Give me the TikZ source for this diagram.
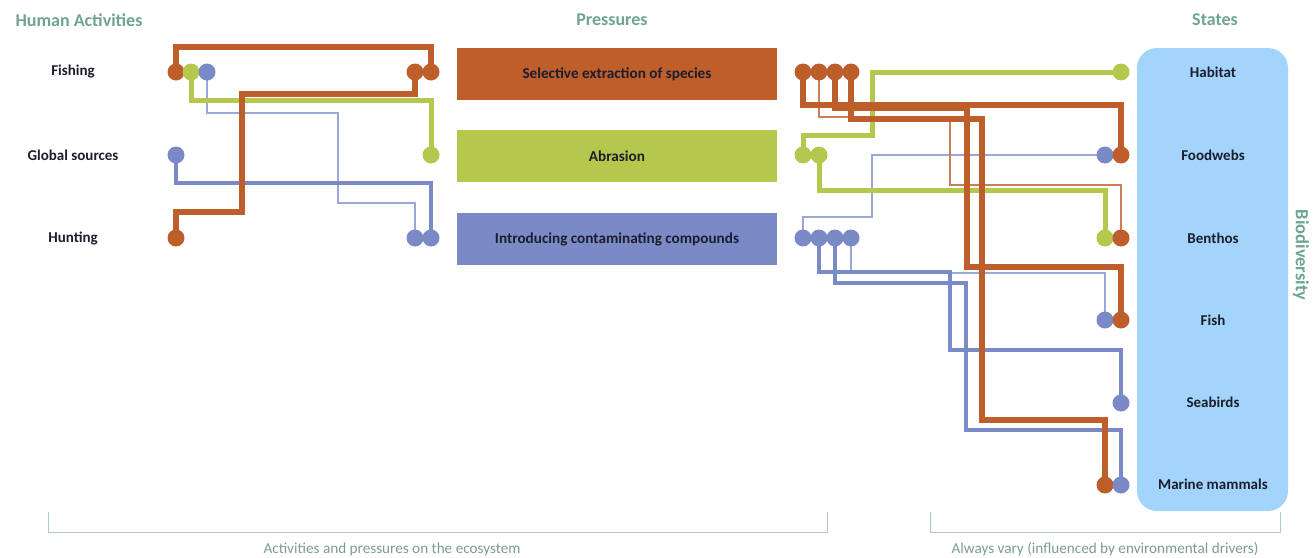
\documentclass[tikz,border=0pt]{standalone}
\usepackage{fontspec}
\setmainfont{Carlito}
\definecolor{rust}{RGB}{189,94,43}
\definecolor{lime}{RGB}{181,199,76}
\definecolor{slate}{RGB}{122,138,198}
\definecolor{sky}{RGB}{163,212,251}
\definecolor{teal}{RGB}{111,163,150}
\definecolor{bracketgrey}{RGB}{178,200,196}
\definecolor{notegrey}{RGB}{125,155,150}
\definecolor{ink}{RGB}{28,30,45}
\begin{document}
\begin{tikzpicture}[x=1pt,y=-1pt,
  header/.style={font=\fontsize{18}{21}\selectfont\bfseries, text=teal},
  actlabel/.style={font=\fontsize{15}{18}\selectfont\bfseries, text=ink},
  statelabel/.style={font=\fontsize{15}{18}\selectfont\bfseries, text=ink},
  pressurebox/.style={minimum width=320pt, minimum height=52pt, inner sep=0pt,
    font=\fontsize{15.2}{18}\selectfont\bfseries, text=ink},
  dotnode/.style={circle, fill=#1, minimum size=17pt, inner sep=0pt},
  wire/.style={draw=#1, line width=6pt},
  thickwire/.style={draw=#1, line width=5pt},
  midwire/.style={draw=#1, line width=3.5pt},
  thinwire/.style={draw=#1, line width=1.2pt},
  bracket/.style={draw=bracketgrey, line width=1pt},
  note/.style={font=\fontsize{15.2}{18}\selectfont, text=notegrey}
]
\useasboundingbox (0,0) rectangle (1314,557);

% column headers
\node[header] (hdA) at (79,20) {Human Activities};
\node[header] (hdP) at (612,20) {Pressures};
\node[header] (hdS) at (1215,20) {States};

% human activities
\node[actlabel] (fish) at (73,72) {Fishing};
\node[actlabel] (glob) at (73,155) {Global sources};
\node[actlabel] (hunt) at (73,238) {Hunting};

% pressures
\node[pressurebox, fill=rust] (sel) at (617,74) {Selective extraction of species};
\node[pressurebox, fill=lime] (abr) at (617,156) {Abrasion};
\node[pressurebox, fill=slate] (con) at (617,239) {Introducing contaminating compounds};

% states panel
\fill[sky, rounded corners=20pt] (1137,48) rectangle (1288,511);
\node[statelabel] (habitat) at (1213,72) {Habitat};
\node[statelabel] (foodwebs) at (1213,155) {Foodwebs};
\node[statelabel] (benthos) at (1213,238) {Benthos};
\node[statelabel] (fishst) at (1213,320) {Fish};
\node[statelabel] (seabirds) at (1213,402) {Seabirds};
\node[statelabel] (mammals) at (1213,484) {Marine mammals};
\node[header, rotate=-90, font=\fontsize{18.5}{21}\selectfont\bfseries] (bio) at (1301,255) {Biodiversity};

% connector end points (dots are drawn later, on top of the wires)
\coordinate (fO) at (176,72);
\coordinate (fG) at (191,72);
\coordinate (fB) at (207,72);
\coordinate (gB) at (176,155);
\coordinate (hO) at (176,238);
\coordinate (selL1) at (415,72);
\coordinate (selL2) at (431,72);
\coordinate (abrL) at (431,155);
\coordinate (conL1) at (415,238);
\coordinate (conL2) at (431,238);
\coordinate (selR1) at (803,72);
\coordinate (selR2) at (819,72);
\coordinate (selR3) at (835,72);
\coordinate (selR4) at (851,72);
\coordinate (abrR1) at (803,155);
\coordinate (abrR2) at (819,155);
\coordinate (conR1) at (803,238);
\coordinate (conR2) at (819,238);
\coordinate (conR3) at (835,238);
\coordinate (conR4) at (851,238);
\coordinate (habG) at (1121,72);
\coordinate (foodB) at (1105,155);
\coordinate (foodO) at (1121,155);
\coordinate (benG) at (1105,238);
\coordinate (benO) at (1121,238);
\coordinate (fishB) at (1105,320);
\coordinate (fishO) at (1121,320);
\coordinate (seaB) at (1121,403);
\coordinate (mamO) at (1105,485);
\coordinate (mamB) at (1121,485);

% thin links
\draw[thinwire=slate!75] (fB) |- (338,113) -- (338,203) -| (conL1);
\draw[thinwire=slate!75] (conR1) -- ++(0,-21) -| (872,155) -- (foodB);
\draw[thinwire=slate!75] (conR4) -- ++(0,35) -| (fishB);
\draw[thinwire=rust!80] (selR2) -- ++(0,45) -| (950,185) -| (benO);

% contaminating compounds links
\draw[thickwire=slate, line width=4.5pt] (gB) -- ++(0,28) -| (conL2);
\draw[midwire=slate] (conR2) -- ++(0,34) -| (950,350) -| (seaB);
\draw[midwire=slate] (conR3) -- ++(0,45) -| (966,430) -| (mamB);

% abrasion links
\draw[thickwire=lime] (fG) -- ++(0,28) -| (abrL);
\draw[thickwire=lime] (abrR1) -- ++(0,-20) -| (872,72) -- (habG);
\draw[thickwire=lime] (abrR2) -- ++(0,35) -| (benG);

% selective extraction links
\draw[wire=rust] (fO) -- ++(0,-25) -| (selL2);
\draw[wire=rust] (hO) -- ++(0,-26) -| (242,94) -| (selL1);
\draw[wire=rust] (selR1) -- ++(0,33) -| (foodO);
\draw[wire=rust] (selR3) -- ++(0,36) -| (967,267) -| (fishO);
\draw[wire=rust] (selR4) -- ++(0,47) -| (982,420) -| (mamO);

% connector dots
\node[dotnode=rust] (dfO) at (fO) {};
\node[dotnode=lime] (dfG) at (fG) {};
\node[dotnode=slate] (dfB) at (fB) {};
\node[dotnode=slate] (dgB) at (gB) {};
\node[dotnode=rust] (dhO) at (hO) {};
\node[dotnode=rust] (dselL1) at (selL1) {};
\node[dotnode=rust] (dselL2) at (selL2) {};
\node[dotnode=lime] (dabrL) at (abrL) {};
\node[dotnode=slate] (dconL1) at (conL1) {};
\node[dotnode=slate] (dconL2) at (conL2) {};
\node[dotnode=rust] (dselR1) at (selR1) {};
\node[dotnode=rust] (dselR2) at (selR2) {};
\node[dotnode=rust] (dselR3) at (selR3) {};
\node[dotnode=rust] (dselR4) at (selR4) {};
\node[dotnode=lime] (dabrR1) at (abrR1) {};
\node[dotnode=lime] (dabrR2) at (abrR2) {};
\node[dotnode=slate] (dconR1) at (conR1) {};
\node[dotnode=slate] (dconR2) at (conR2) {};
\node[dotnode=slate] (dconR3) at (conR3) {};
\node[dotnode=slate] (dconR4) at (conR4) {};
\node[dotnode=lime] (dhabG) at (habG) {};
\node[dotnode=slate] (dfoodB) at (foodB) {};
\node[dotnode=rust] (dfoodO) at (foodO) {};
\node[dotnode=lime] (dbenG) at (benG) {};
\node[dotnode=rust] (dbenO) at (benO) {};
\node[dotnode=slate] (dfishB) at (fishB) {};
\node[dotnode=rust] (dfishO) at (fishO) {};
\node[dotnode=slate] (dseaB) at (seaB) {};
\node[dotnode=rust] (dmamO) at (mamO) {};
\node[dotnode=slate] (dmamB) at (mamB) {};

% bottom brackets and captions
\draw[bracket] (48,512) |- (827,532) -- (827,512);
\draw[bracket] (930,512) |- (1280,532) -- (1280,512);
\node[note] (noteL) at (392,549) {Activities and pressures on the ecosystem};
\node[note] (noteR) at (1105,549) {Always vary (influenced by environmental drivers)};
\end{tikzpicture}
\end{document}
